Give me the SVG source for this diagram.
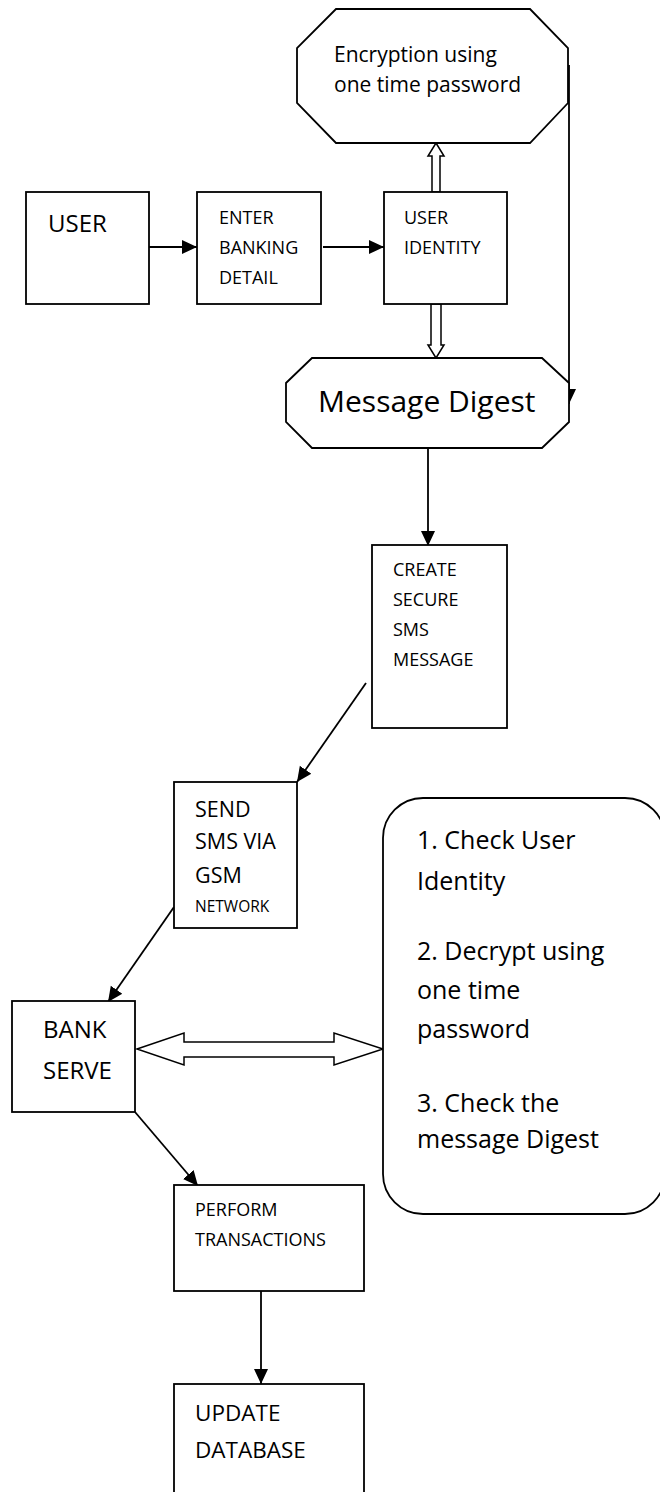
<svg xmlns="http://www.w3.org/2000/svg" width="660" height="1492" viewBox="0 0 660 1492">
<style>
.s{fill:#fff;stroke:#000;stroke-width:1.8}
.t{font-family:"Open Sans","Noto Sans",sans-serif;fill:#000}
.c{stroke:#000;stroke-width:1.8;fill:none}
.h{fill:#fff;stroke:#000;stroke-width:1.5}
</style>
<defs>
<marker id="a" markerUnits="userSpaceOnUse" markerWidth="16" markerHeight="16" viewBox="0 0 16 16" refX="15" refY="8" orient="auto">
<path d="M0,1 L15,8 L0,15 Z" fill="#000"/>
</marker>
</defs>
<rect width="660" height="1492" fill="#fff"/>
<g id="connectors">
<line class="c" x1="149" y1="247" x2="197" y2="247" marker-end="url(#a)"/>
<line class="c" x1="323" y1="247" x2="384" y2="247" marker-end="url(#a)"/>
<line class="c" x1="569" y1="65" x2="569" y2="404" marker-end="url(#a)"/>
<polygon class="h" points="436,143 444,156 440,156 440,192 432,192 432,156 428,156"/>
<polygon class="h" points="431,304 441,304 441,345 444,345 436,358 428,345 431,345"/>
<line class="c" x1="428" y1="448" x2="428" y2="546" marker-end="url(#a)"/>
<line class="c" x1="366" y1="683" x2="297" y2="782" marker-end="url(#a)"/>
<line class="c" x1="174" y1="907" x2="108" y2="1002" marker-end="url(#a)"/>
<polygon class="h" points="137,1049 184,1033 184,1042 334,1042 334,1033 383,1049 334,1065 334,1057 184,1057 184,1065"/>
<line class="c" x1="135" y1="1112" x2="198" y2="1186" marker-end="url(#a)"/>
<line class="c" x1="261" y1="1287" x2="261" y2="1384" marker-end="url(#a)"/>
</g>
<g id="encryption">
<polygon class="s" points="336,9 530,9 568,48 568,103 530,143 336,143 297,103 297,48"/>
<text class="t" font-size="21" x="334" y="62">Encryption using</text>
<text class="t" font-size="21" x="334" y="92">one time password</text>
</g>
<g id="user">
<rect class="s" x="26" y="192" width="123" height="112"/>
<text class="t" font-size="24" x="48" y="232">USER</text>
</g>
<g id="enter">
<rect class="s" x="197" y="192" width="124" height="112"/>
<text class="t" font-size="18" x="219" y="224">ENTER</text>
<text class="t" font-size="18" x="219" y="254">BANKING</text>
<text class="t" font-size="18" x="219" y="284">DETAIL</text>
</g>
<g id="identity">
<rect class="s" x="384" y="192" width="123" height="112"/>
<text class="t" font-size="18" x="404" y="224">USER</text>
<text class="t" font-size="18" x="404" y="254">IDENTITY</text>
</g>
<g id="digest">
<polygon class="s" points="312,358 542,358 569,383 569,422 542,448 312,448 286,422 286,383"/>
<text class="t" font-size="30" x="318" y="412">Message Digest</text>
</g>
<g id="create">
<rect class="s" x="372" y="545" width="135" height="183"/>
<text class="t" font-size="18" x="393" y="576">CREATE</text>
<text class="t" font-size="18" x="393" y="606">SECURE</text>
<text class="t" font-size="18" x="393" y="636">SMS</text>
<text class="t" font-size="18" x="393" y="666">MESSAGE</text>
</g>
<g id="send">
<rect class="s" x="174" y="782" width="123" height="146"/>
<text class="t" font-size="21.5" x="195" y="817">SEND</text>
<text class="t" font-size="21.5" x="195" y="849">SMS VIA</text>
<text class="t" font-size="21.5" x="195" y="883">GSM</text>
<text class="t" font-size="15.5" x="195" y="912">NETWORK</text>
</g>
<g id="bank">
<rect class="s" x="12" y="1001" width="123" height="111"/>
<text class="t" font-size="24" x="43" y="1038">BANK</text>
<text class="t" font-size="24" x="43" y="1079">SERVE</text>
</g>
<g id="checks">
<rect class="s" x="383" y="798" width="282" height="416" rx="40" ry="40"/>
<text class="t" font-size="25" x="417" y="849">1. Check User</text>
<text class="t" font-size="25" x="417" y="890">Identity</text>
<text class="t" font-size="25" x="417" y="960">2. Decrypt using</text>
<text class="t" font-size="25" x="417" y="999">one time</text>
<text class="t" font-size="25" x="417" y="1038">password</text>
<text class="t" font-size="25" x="417" y="1112">3. Check the</text>
<text class="t" font-size="25" x="417" y="1148">message Digest</text>
</g>
<g id="perform">
<rect class="s" x="174" y="1185" width="190" height="106"/>
<text class="t" font-size="18" x="195" y="1216">PERFORM</text>
<text class="t" font-size="18" x="195" y="1246">TRANSACTIONS</text>
</g>
<g id="update">
<rect class="s" x="174" y="1384" width="190" height="112"/>
<text class="t" font-size="22.5" x="195" y="1421">UPDATE</text>
<text class="t" font-size="22.5" x="195" y="1458">DATABASE</text>
</g>
</svg>
